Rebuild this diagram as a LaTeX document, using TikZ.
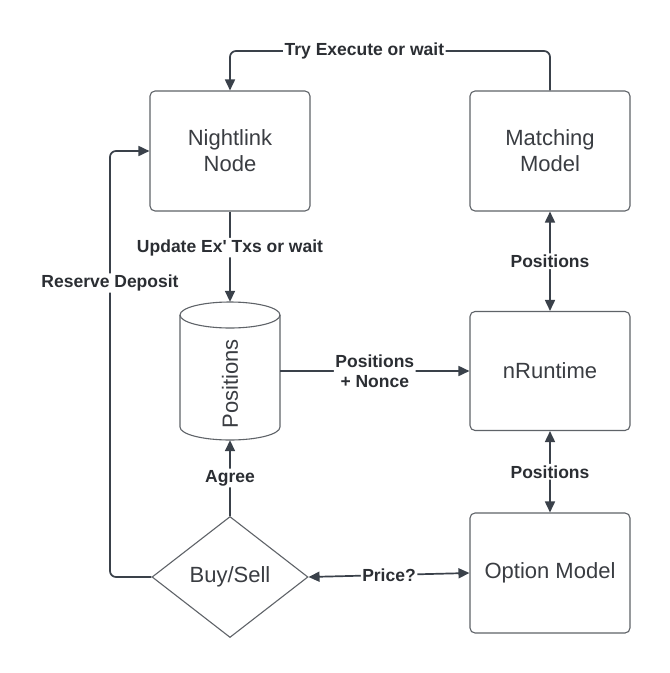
\documentclass[tikz,border=0pt]{standalone}
\usepackage{fontspec}
\setmainfont{Liberation Sans}
\usetikzlibrary{arrows.meta,shapes.geometric}
\definecolor{linec}{HTML}{3A414A}
\definecolor{boxc}{HTML}{5F6368}
\definecolor{txtc}{HTML}{3A3D42}
\definecolor{lblc}{HTML}{2B2E33}
\tikzset{
  box/.style={draw=boxc, line width=1.1pt, rounded corners=5pt, minimum width=160pt, minimum height=120pt, inner sep=0pt, align=center, text=txtc, font=\fontsize{22}{26}\selectfont},
  conn/.style={draw=linec, line width=1.7pt, rounded corners=6pt},
  tip/.style={-{Triangle[length=11pt,width=10pt]}},
  both/.style={{Triangle[length=11pt,width=10pt]}-{Triangle[length=11pt,width=10pt]}},
  lbl/.style={fill=white, text=lblc, inner sep=1.5pt, align=center, font=\bfseries\fontsize{17.5}{20}\selectfont}
}
\begin{document}
\begin{tikzpicture}[x=1pt,y=-1pt]
\useasboundingbox (0,0) rectangle (670,673);
\fill[white] (0,0) rectangle (670,673);
% nodes
\node[box] (nl) at (230,151) {Nightlink\\Node};
\node[box] (mm) at (550,151) {Matching\\Model};
\node[box, minimum height=119pt] (nr) at (550,371) {nRuntime};
\node[box] (om) at (550,573) {Option Model};
\node[diamond, draw=boxc, line width=1.1pt, inner sep=0pt, minimum width=156pt, minimum height=121pt, text=txtc, font=\fontsize{22}{26}\selectfont] (dia) at (230,577) {};
\node[text=txtc, font=\fontsize{22}{26}\selectfont] (dialbl) at (230,577) {Buy/Sell};
% cylinder
\node[minimum width=100pt, minimum height=138pt, inner sep=0pt] (pos) at (230,371) {};
\draw[draw=boxc, line width=1.1pt, fill=white]
  (180,315) -- (180,427) arc[start angle=180, end angle=360, x radius=50, y radius=-13]
  -- (280,315) arc[start angle=0, end angle=180, x radius=50, y radius=-13] -- cycle;
\draw[draw=boxc, line width=1.1pt] (180,315) arc[start angle=180, end angle=360, x radius=50, y radius=-13];
\node[rotate=90, text=txtc, font=\fontsize{22}{26}\selectfont] (poslbl) at (230,384) {Positions};
% connectors
\coordinate (topR) at (550,51);
\coordinate (topL) at (230,51);
\draw[conn, tip] (mm.north) -- (topR) -- node[lbl, pos=0.58] {Try Execute or wait} (topL) -- (nl.north);
\draw[conn, tip] (nl.south) -- node[lbl, pos=0.4] {Update Ex\textquotesingle{} Txs or wait} (pos.north);
\draw[conn, tip] (pos.east) -- node[lbl] {Positions\\+ Nonce} (nr.west);
\draw[conn, both] (mm.south) -- node[lbl] {Positions} (nr.north);
\draw[conn, both] (nr.south) -- node[lbl] {Positions} (om.north);
\draw[conn, tip] (dia.north) -- node[lbl] {Agree} (pos.south);
\draw[conn, both] (dia.east) -- node[lbl] {Price?} (om.west);
\coordinate (resB) at (110,577);
\coordinate (resT) at (110,151);
\draw[conn, tip] (dia.west) -- (resB) -- node[lbl, pos=0.69] {Reserve Deposit} (resT) -- (nl.west);
\end{tikzpicture}
\end{document}
